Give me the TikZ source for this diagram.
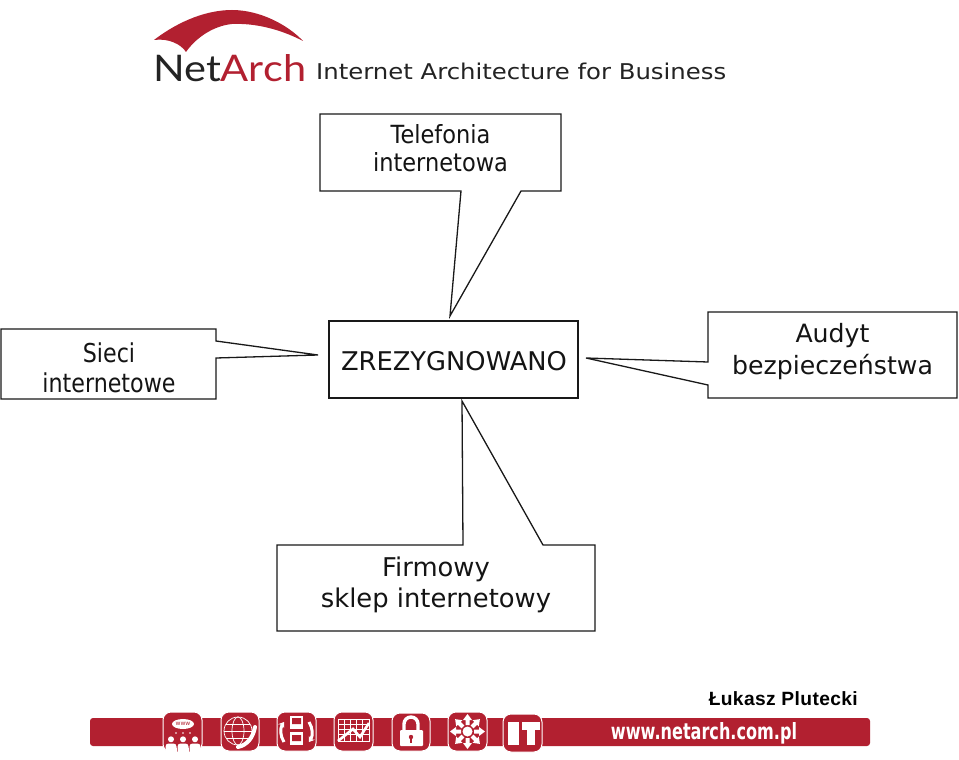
\documentclass[tikz,border=0pt]{standalone}
\usepackage{fontspec}
\usetikzlibrary{arrows.meta}
\setmainfont{DejaVu Sans}
\newfontfamily\logofont{Lato}
\newfontfamily\tagfont{DejaVu Sans}
\newfontfamily\liberbold{Liberation Sans}[BoldFont={Liberation Sans Bold}]
\definecolor{nared}{RGB}{178,32,48}
\definecolor{natext}{RGB}{35,35,35}
\tikzset{
  callout/.style={draw=black!90,line width=1.3pt,fill=white,line join=miter},
  lab/.style={align=center,inner sep=0pt,text=black!92},
  iconbg/.style={fill=nared,draw=white,line width=1pt,rounded corners=8pt},
  glyph/.style={fill=white,draw=none},
  gline/.style={draw=white,line width=1pt}
}
\newcommand{\labfont}[2]{\fontsize{#1}{#2}\selectfont}
\begin{document}
\begin{tikzpicture}[x=1pt,y=-1pt]
\useasboundingbox (0,0) rectangle (959,760);
\fill[white] (0,0) rectangle (959,760);

% logo
\fill[nared] (154,40) .. controls (180,20) and (208,10) .. (232,10)
  .. controls (260,10) and (288,25) .. (303,41)
  .. controls (280,29) and (255,23) .. (232,24)
  .. controls (212,26) and (195,39) .. (186,52)
  .. controls (181,44) and (168,38) .. (154,40) -- cycle;
\node[anchor=base west,inner sep=0pt] (brand) at (153,82) {\resizebox{153pt}{27pt}{\logofont\fontsize{40}{40}\selectfont\textcolor{natext}{Net}\textcolor{nared}{Arch}}};
\node[anchor=base west,inner sep=0pt] (tagline) at (316,80) {\resizebox{410pt}{16.5pt}{\tagfont\fontsize{20}{20}\selectfont\textcolor{natext}{Internet Architecture for Business}}};

% callouts
\draw[callout] (320,114) -- (561,114) -- (561,191) -- (521,191) -- (450,316) -- (461,191) -- (320,191) -- cycle;
\draw[callout] (1,329) -- (216,329) -- (216,341) -- (318,355) -- (216,358) -- (216,399) -- (1,399) -- cycle;
\draw[callout] (708,312) -- (957,312) -- (957,398) -- (708,398) -- (708,385) -- (586,358) -- (708,362) -- cycle;
\draw[callout] (277,545) -- (463,545) -- (462,401) -- (543,545) -- (595,545) -- (595,631) -- (277,631) -- cycle;
\draw[callout] (329,321) -- (578,321) -- (578,398) -- (329,398) -- cycle;

\node[lab] (tel) at (440.5,151.4) {\scalebox{0.90}[1]{\labfont{25}{28}\begin{tabular}{@{}c@{}}Telefonia\\internetowa\end{tabular}}};
\node[lab] (sieci) at (109,371) {\scalebox{0.854}[1]{\labfont{26}{30}\begin{tabular}{@{}c@{}}Sieci\\internetowe\end{tabular}}};
\node[lab] (zrez) at (454,361) {\resizebox{226pt}{!}{\labfont{24}{24}ZREZYGNOWANO}};
\node[lab,font=\labfont{25.2}{32}] (audyt) at (832.5,352) {Audyt\\bezpieczeństwa};
\node[lab,font=\labfont{25.8}{31}] (firm) at (436,585) {Firmowy\\sklep internetowy};

\node[anchor=base east,inner sep=0pt] (author) at (858,705) {\resizebox{149pt}{!}{\liberbold\bfseries\fontsize{18}{18}\selectfont\addfontfeature{LetterSpace=2}Łukasz Plutecki}};

% footer bar
\fill[nared,rounded corners=3pt] (90,718) rectangle (870,746);
\node[inner sep=0pt,text=white,anchor=center] (web) at (704,733) {\resizebox{186pt}{17pt}{\bfseries www.netarch.com.pl}};

% icon 1: www
\draw[iconbg] (163,712) rectangle (202,752);
\fill[glyph] (183,724) ellipse (11 and 5);
\node[inner sep=0pt,text=nared,font=\fontsize{6}{6}\selectfont] (iconweb) at (183,724) {www};
\foreach \x in {171,183,195}{
  \fill[glyph] (\x,739.3) circle (3);
  \fill[glyph,rounded corners=3pt] (\x-5.5,743.5) rectangle (\x+5.5,756);
  \fill[glyph] (\x-5.5,748) rectangle (\x+5.5,751.5);
}
\fill[white] (176,733) circle (0.8) (183,733) circle (0.8) (190,733) circle (0.8);
\fill[white] (160,751.8) rectangle (205,757);
% icon 2: globe
\draw[iconbg] (221,712) rectangle (259,751);
\draw[gline,line width=0.7pt] (238,731) circle (14);
\draw[gline,line width=0.7pt] (238,731) ellipse (6 and 14);
\draw[gline,line width=0.7pt] (224,731) -- (252,731);
\draw[gline,line width=0.7pt] (226,724) -- (250,724) (226,738) -- (250,738);
\draw[white,line width=4pt,line cap=round] (238,747) .. controls (247,745) and (253,738) .. (255,727);
% icon 3: computers
\draw[iconbg] (277,712) rectangle (316,751);
\fill[glyph] (290,716) rectangle (303,729);
\fill[glyph] (290,732) rectangle (303,745);
\fill[nared] (292,718) rectangle (301,724) (292,735) rectangle (301,741);
\draw[white,line width=3pt,-{Stealth[length=5pt,width=7pt]}] (284,742) .. controls (280,736) and (280,728) .. (284,722);
\draw[white,line width=3pt,-{Stealth[length=5pt,width=7pt]}] (309,722) .. controls (313,728) and (313,736) .. (309,742);
% icon 4: chart
\draw[iconbg] (334,712) rectangle (373,751);
\foreach \gx in {344,350,356,362}{\draw[white,line width=0.5pt] (\gx,719) -- (\gx,741);}
\foreach \gy in {724,729,734}{\draw[white,line width=0.5pt] (338,\gy) -- (369,\gy);}
\draw[white,line width=0.8pt] (338,719) rectangle (369,741);
\draw[white,line width=2.6pt] (338,741) -- (353,729) -- (360,737) -- (369,723);
% icon 5: lock
\draw[iconbg] (392,713) rectangle (430,751);
\draw[white,line width=3.4pt] (404,731) -- (404,724) arc (180:360:7) -- (418,731);
\fill[glyph,rounded corners=1pt] (400,730) rectangle (423,746);
\fill[nared] (411,737) circle (2.2);
\fill[nared] (410,737) rectangle (412,743);
% icon 6: arrows
\draw[iconbg] (448,712) rectangle (487,751);
\fill[glyph] (467.5,731.5) circle (5);
\foreach \a in {0,45,...,315}{
  \fill[glyph,rotate around={\a:(467.5,731.5)}] (474,729.5) -- (479,729.5) -- (479,727) -- (485,731.5) -- (479,736) -- (479,733.5) -- (474,733.5) -- cycle;
}
% icon 7: IT
\draw[iconbg] (503,714) rectangle (542,752);
\fill[glyph] (508,722) rectangle (519,745);
\fill[glyph] (522,722) rectangle (540,730);
\fill[glyph] (527,722) rectangle (535,745);
\end{tikzpicture}
\end{document}
